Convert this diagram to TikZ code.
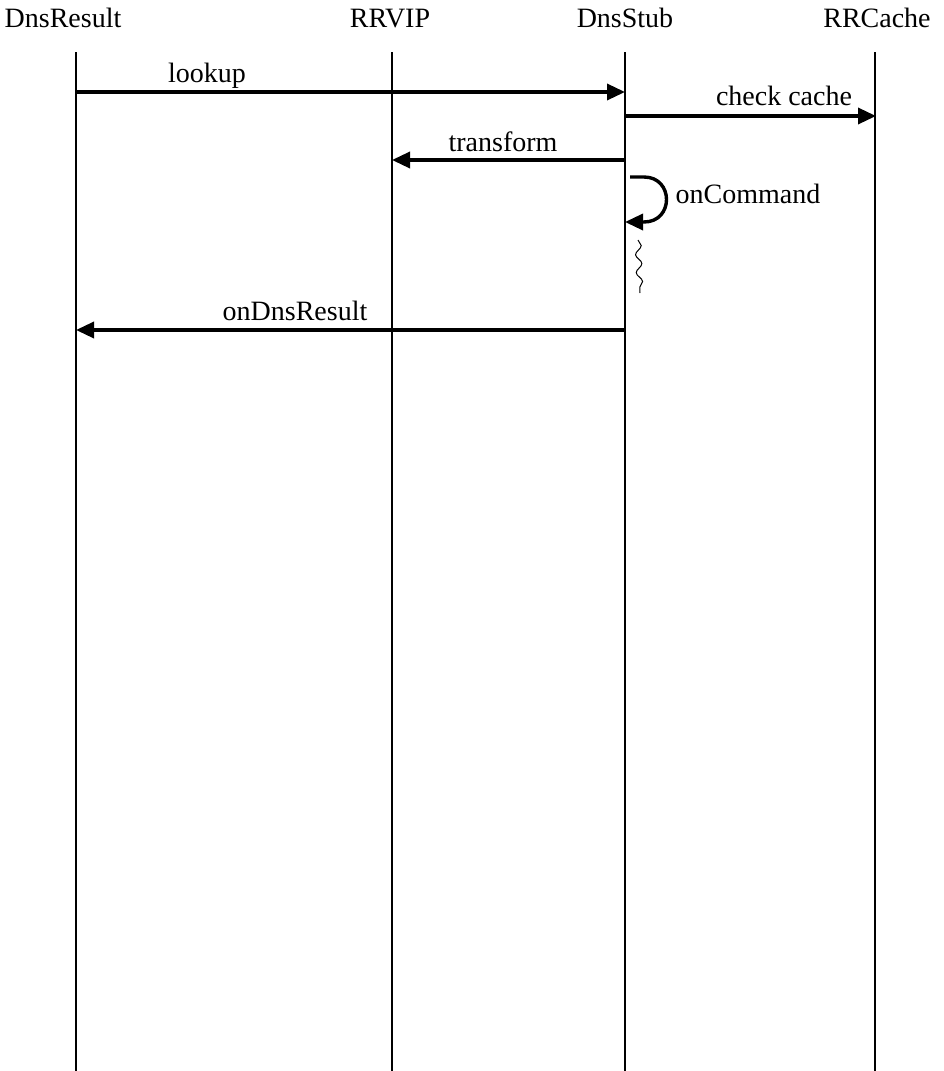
\documentclass[tikz,border=0pt]{standalone}
\usepackage{fontspec}
\setmainfont{Liberation Serif}
\usetikzlibrary{arrows.meta}
\usetikzlibrary{decorations.pathmorphing}

\tikzset{
  lifeline/.style={line width=0.7pt},
  msg/.style={line width=1.7pt,-{Triangle[length=9pt,width=8pt]}},
  msglabel/.style={anchor=base,inner sep=0pt,font=\fontsize{14}{16}\selectfont},
  headlabel/.style={anchor=base,inner sep=0pt,font=\fontsize{14}{16}\selectfont},
}

\begin{document}
\begin{tikzpicture}[x=0.5pt,y=-0.5pt]
  \useasboundingbox (0,0) rectangle (943,1071);

  % heads
  \node[headlabel] (dnsresult) at (63,27) {DnsResult};
  \node[headlabel] (rrvip)     at (390,27) {RRVIP};
  \node[headlabel] (dnsstub)   at (625,27) {DnsStub};
  \node[headlabel] (rrcache)   at (877,27) {RRCache};

  % lifelines
  \coordinate (dnsresult-top) at (76,52);
  \coordinate (dnsresult-bot) at (76,1071);
  \coordinate (rrvip-top)     at (392,52);
  \coordinate (rrvip-bot)     at (392,1071);
  \coordinate (dnsstub-top)   at (625,52);
  \coordinate (dnsstub-bot)   at (625,1071);
  \coordinate (rrcache-top)   at (875,52);
  \coordinate (rrcache-bot)   at (875,1071);
  \draw[lifeline] (dnsresult-top) -- (dnsresult-bot);
  \draw[lifeline] (rrvip-top) -- (rrvip-bot);
  \draw[lifeline] (dnsstub-top) -- (dnsstub-bot);
  \draw[lifeline] (rrcache-top) -- (rrcache-bot);

  % lookup
  \coordinate (lookup-from) at (76,92);
  \coordinate (lookup-to)   at (625,92);
  \draw[msg] (lookup-from) -- (lookup-to);
  \node[msglabel] (lookup) at (207,82) {lookup};

  % check cache
  \coordinate (check-from) at (625,116);
  \coordinate (check-to)   at (876,116);
  \draw[msg] (check-from) -- (check-to);
  \node[msglabel] (check) at (784,105) {check cache};

  % transform
  \coordinate (transform-from) at (625,160);
  \coordinate (transform-to)   at (392,160);
  \draw[msg] (transform-from) -- (transform-to);
  \node[msglabel] (transform) at (503,151) {transform};

  % onCommand (self message)
  \coordinate (cmd-from) at (630,177);
  \coordinate (cmd-to)   at (625,222);
  \draw[msg] (cmd-from) -- (644,177)
                  .. controls (674,177) and (674,222) .. (644,222) -- (cmd-to);
  \node[msglabel] (oncommand) at (748,203) {onCommand};

  % waiting
  \coordinate (wait-top) at (638,240);
  \coordinate (wait-bot) at (640,293);
  \draw[line width=0.5pt,decorate,
        decoration={snake,segment length=9pt,amplitude=1.5pt}]
        (wait-top) -- (wait-bot);

  % onDnsResult
  \coordinate (result-from) at (625,330);
  \coordinate (result-to)   at (76,330);
  \draw[msg] (result-from) -- (result-to);
  \node[msglabel] (ondnsresult) at (295,320) {onDnsResult};
\end{tikzpicture}
\end{document}
